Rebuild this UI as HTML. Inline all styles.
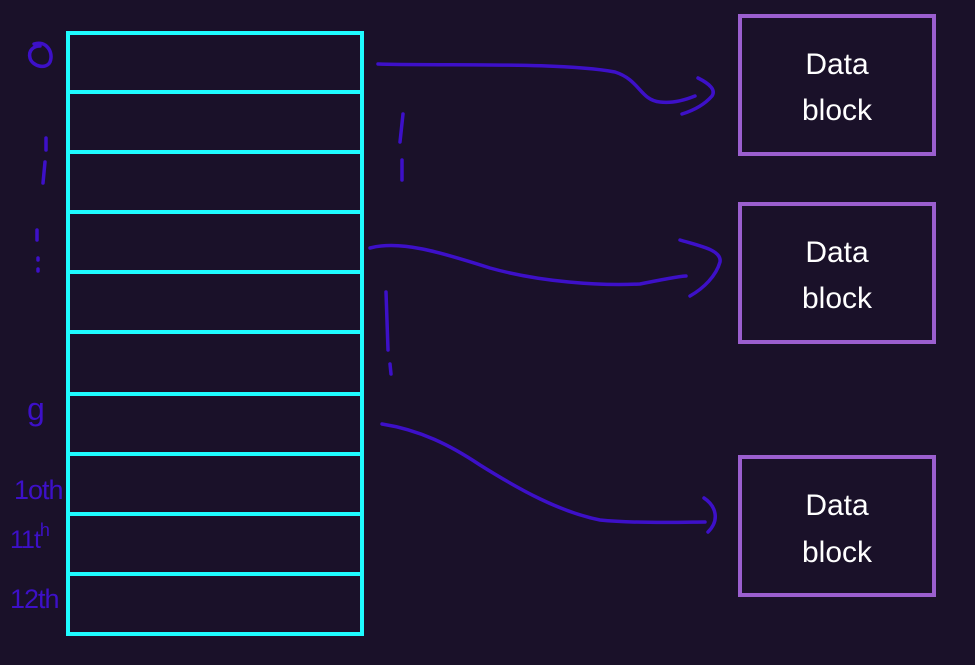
<!DOCTYPE html>
<html><head><style>
html,body{margin:0;padding:0;background:#1a1129;}
svg{display:block}
</style></head><body>
<svg width="975" height="665" viewBox="0 0 975 665" xmlns="http://www.w3.org/2000/svg">
<rect width="975" height="665" fill="#1a1129"/>
<g stroke="#1efcff" stroke-width="4" fill="none">
<rect x="68" y="33" width="294" height="601"/>
<line x1="68" y1="92" x2="362" y2="92"/>
<line x1="68" y1="152" x2="362" y2="152"/>
<line x1="68" y1="212" x2="362" y2="212"/>
<line x1="68" y1="272" x2="362" y2="272"/>
<line x1="68" y1="332" x2="362" y2="332"/>
<line x1="68" y1="394" x2="362" y2="394"/>
<line x1="68" y1="454" x2="362" y2="454"/>
<line x1="68" y1="514" x2="362" y2="514"/>
<line x1="68" y1="574" x2="362" y2="574"/>
</g>
<g stroke="#9b5fcf" stroke-width="4" fill="none">
<rect x="740" y="16" width="194" height="138"/>
<rect x="740" y="204" width="194" height="138"/>
<rect x="740" y="457" width="194" height="138"/>
</g>
<g fill="#ffffff" font-family="Liberation Sans, sans-serif" font-size="30" text-anchor="middle">
<text x="837" y="74">Data</text><text x="837" y="120">block</text>
<text x="837" y="262">Data</text><text x="837" y="308">block</text>
<text x="837" y="515">Data</text><text x="837" y="562">block</text>
</g>
<g stroke="#3d10c8" stroke-width="3.5" fill="none" stroke-linecap="round">
<path d="M378 64 C450 66 560 62 615 72 C640 80 640 100 660 102 C675 104 690 98 695 96"/>
<path d="M698 78 C710 84 716 90 712 96 C705 104 695 110 682 114"/>
<path d="M370 248 C400 240 440 252 490 268 C540 282 600 286 640 284 C660 280 680 276 686 276"/>
<path d="M680 240 C700 246 722 250 720 262 C716 276 704 288 690 296"/>
<path d="M382 424 C420 430 450 445 480 465 C520 490 560 512 600 520 C640 524 690 522 705 522"/>
<path d="M704 498 C716 506 720 520 708 532"/>
<path d="M403 114 L400 142 M402 160 L402 180"/>
<path d="M386 292 L388 350 M390 364 L391 374"/>
<path d="M46 138 L46 150 M45 162 L43 183"/>
<path d="M37 230 L37 240 M38 258 L38 260 M38 269 L38 271"/>
<path d="M34 44 C46 40 54 52 50 62 C46 70 32 66 30 58 C28 50 34 46 40 46"/>
</g>
<g fill="#3d10c8" font-family="Liberation Sans, sans-serif">
<text x="27" y="420" font-size="32">g</text>
<text x="14" y="499" font-size="27" letter-spacing="-1">1oth</text>
<text x="10" y="548" font-size="25" letter-spacing="-1">11t<tspan dy="-12" font-size="18">h</tspan></text>
<text x="10" y="608" font-size="27" letter-spacing="-1">12th</text>
</g>
</svg>
</body></html>
